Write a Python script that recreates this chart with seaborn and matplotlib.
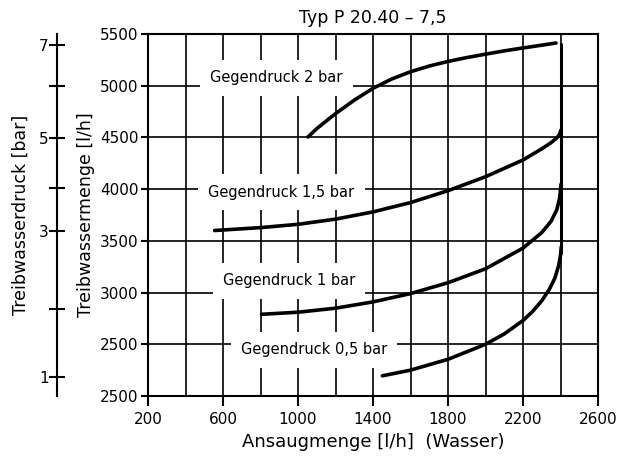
import seaborn as sns
import matplotlib.pyplot as plt
import pandas as pd

# Kennlinien: Ansaugmenge [l/h] -> Treibwassermenge [l/h]
x_2bar = [1053, 1100, 1200, 1300, 1400, 1500, 1600, 1700, 1800, 1900, 2000, 2100, 2200, 2300, 2376]
y_2bar = [4504, 4585, 4730, 4860, 4975, 5065, 5135, 5190, 5235, 5272, 5305, 5337, 5365, 5392, 5413]

x_15bar = [555, 600, 800, 1000, 1200, 1400, 1600, 1800, 2000, 2200, 2300, 2350, 2380, 2395, 2402]
y_15bar = [3600, 3605, 3628, 3660, 3710, 3780, 3870, 3985, 4120, 4282, 4390, 4450, 4495, 4530, 4570]

x_1bar = [805, 1000, 1200, 1400, 1600, 1800, 2000, 2200, 2300, 2350, 2380, 2395, 2403]
y_1bar = [2790, 2810, 2849, 2910, 2990, 3095, 3230, 3430, 3580, 3690, 3800, 3910, 4050]

x_05bar = [1450, 1600, 1800, 2000, 2100, 2200, 2250, 2300, 2340, 2370, 2390, 2400, 2404]
y_05bar = [2195, 2250, 2355, 2500, 2600, 2730, 2815, 2920, 3030, 3140, 3260, 3360, 3440]

# vertical limit at max Ansaugmenge
x_limit = [2405, 2405]
y_limit = [3380, 5400]

label_texts = ['Gegendruck 2 bar', 'Gegendruck 1,5 bar', 'Gegendruck 1 bar', 'Gegendruck 0,5 bar']
label_x = [885, 912, 952, 1085]
label_y = [5075, 3972, 3112, 2445]

x_ticks = [200, 600, 1000, 1400, 1800, 2200, 2600]
y_ticks = [2000, 2500, 3000, 3500, 4000, 4500, 5000, 5500]
y_ticklabels = ['2500', '2500', '3000', '3500', '4000', '4500', '5000', '5500']  # bottom label printed like this in the original

# Treibwasserdruck scale, positions given on the Treibwassermenge axis
druck_pos = [2187, 2841, 3598, 4011, 4497, 4997, 5394]
druck_labels = ['1', '', '3', '', '5', '', '7']

curves = [('2 bar', x_2bar, y_2bar), ('1,5 bar', x_15bar, y_15bar),
          ('1 bar', x_1bar, y_1bar), ('0,5 bar', x_05bar, y_05bar),
          ('limit', x_limit, y_limit)]
data = pd.concat([pd.DataFrame({'x': xs, 'y': ys, 'curve': name}) for name, xs, ys in curves],
                 ignore_index=True)

sns.set_style('white')
plt.rcParams['font.family'] = ['DejaVu Sans']
plt.rcParams.update({'text.color': 'black', 'axes.labelcolor': 'black',
                     'xtick.color': 'black', 'ytick.color': 'black'})

fig = plt.figure(figsize=(6.22, 4.63), dpi=100)
ax = fig.add_axes([148 / 622, 67 / 463, 450 / 622, 362 / 463])

sns.lineplot(data=data[data.curve != 'limit'], x='x', y='y', hue='curve',
             palette=['black'] * 4, estimator=None, sort=False,
             linewidth=2.6, legend=False, ax=ax, solid_joinstyle='round')
sns.lineplot(data=data[data.curve == 'limit'], x='x', y='y', color='black',
             estimator=None, sort=False, linewidth=2.2, legend=False, ax=ax)

ax.set_xlim(200, 2600)
ax.set_ylim(2000, 5500)
ax.set_xticks(x_ticks)
ax.set_xticks(range(200, 2601, 200), minor=True)
ax.set_yticks(y_ticks, y_ticklabels)
ax.set_axisbelow(True)
ax.grid(True, which='both', axis='x', color='black', linewidth=1.2)
ax.grid(True, which='major', axis='y', color='black', linewidth=1.2)
ax.tick_params(axis='x', which='major', bottom=True, direction='out', length=7.5,
               width=1.5, labelsize=11, pad=4)
ax.tick_params(axis='x', which='minor', bottom=False, length=0)
ax.tick_params(axis='y', left=True, direction='out', length=5, width=1.5,
               labelsize=11, pad=2)
for sp in ax.spines.values():
    sp.set_color('black')
    sp.set_linewidth(1.5)

for txt, lx, ly in zip(label_texts, label_x, label_y):
    ax.text(lx, ly, txt, ha='center', va='center', fontsize=10.5, zorder=3,
            bbox=dict(facecolor='white', edgecolor='none', boxstyle='square,pad=0.7'))

ax.set_title('Typ P 20.40 – 7,5', fontsize=12.5, pad=8)
ax.set_xlabel('Ansaugmenge [l/h]  (Wasser)', fontsize=13, labelpad=4)
ax.set_ylabel('Treibwassermenge [l/h]', fontsize=12.5, labelpad=3)

# second scale on the left
ax2 = fig.add_axes([57 / 622, 67 / 463, 0.0001, 362 / 463])
ax2.set_ylim(ax.get_ylim())
ax2.patch.set_visible(False)
for side in ['right', 'top', 'bottom']:
    ax2.spines[side].set_visible(False)
ax2.spines['left'].set_linewidth(1.5)
ax2.spines['left'].set_color('black')
ax2.set_xticks([])
ax2.set_yticks(druck_pos, druck_labels)
ax2.tick_params(axis='y', left=True, direction='inout', length=12, width=1.5,
                labelsize=11, pad=0)
ax2.set_ylabel('Treibwasserdruck [bar]', fontsize=12.5, labelpad=6.5)

plt.savefig('out.png', dpi=100)
